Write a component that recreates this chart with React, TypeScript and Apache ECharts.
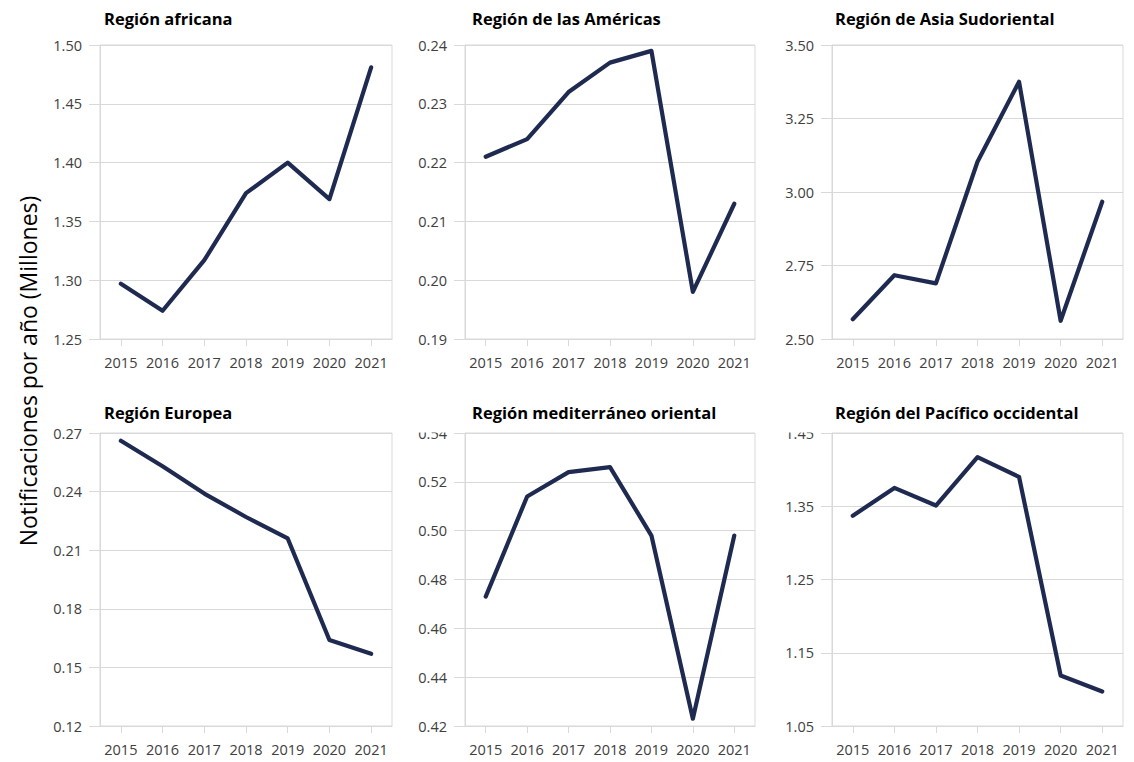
import React, { useEffect, useRef } from "react";
import * as echarts from "echarts";

const years = ["2015", "2016", "2017", "2018", "2019", "2020", "2021"];

const africana = [1.297, 1.274, 1.317, 1.374, 1.4, 1.369, 1.481];
const americas = [0.221, 0.224, 0.232, 0.237, 0.239, 0.198, 0.213];
const asiaSudoriental = [2.567, 2.717, 2.689, 3.103, 3.375, 2.562, 2.967];
const europea = [0.266, 0.253, 0.239, 0.227, 0.216, 0.164, 0.157];
const mediterraneo = [0.473, 0.514, 0.524, 0.526, 0.498, 0.423, 0.498];
const pacifico = [1.337, 1.375, 1.351, 1.417, 1.39, 1.119, 1.097];

const titles = [
  "Región africana",
  "Región de las Américas",
  "Región de Asia Sudoriental",
  "Región Europea",
  "Región mediterráneo oriental",
  "Región del Pacífico occidental",
];
const seriesData = [africana, americas, asiaSudoriental, europea, mediterraneo, pacifico];
const yMins = [1.25, 0.19, 2.5, 0.12, 0.42, 1.05];
const yMaxs = [1.5, 0.24, 3.5, 0.27, 0.54, 1.45];
const yIntervals = [0.05, 0.01, 0.25, 0.03, 0.02, 0.1];
const yAxisTitle = "Notificaciones por año (Millones)";

const FONT = "'Open Sans', 'Noto Sans', sans-serif";
const gridLefts = [100, 465, 832];
const gridWidths = [292, 290, 291];
const gridTops = [45, 433];
const gridHeights = [294, 293];
const titleLefts = [104, 472, 835];
const titleTops = [10, 404];

export default function App() {
  const ref = useRef<HTMLDivElement>(null);
  useEffect(() => {
    if (!ref.current) return;
    const chart = echarts.init(ref.current, null, { renderer: "svg" });
    const grid: any[] = [];
    const xAxis: any[] = [];
    const yAxis: any[] = [];
    const series: any[] = [];
    const title: any[] = [];
    for (let i = 0; i < 6; i++) {
      const r = Math.floor(i / 3);
      const c = i % 3;
      grid.push({
        left: gridLefts[c],
        top: gridTops[r],
        width: gridWidths[c],
        height: gridHeights[r],
        show: true,
        borderColor: "#d9d9d9",
        borderWidth: 1,
        backgroundColor: "transparent",
      });
      title.push({
        text: titles[i],
        left: titleLefts[c],
        top: titleTops[r],
        padding: 0,
        textStyle: { fontFamily: FONT, fontSize: 16.5, fontWeight: "bold", color: "#000" },
      });
      xAxis.push({
        type: "category",
        gridIndex: i,
        data: years,
        boundaryGap: true,
        axisLine: { show: true, lineStyle: { color: "#d9d9d9", width: 1 } },
        axisTick: { show: true, alignWithLabel: true, length: 7, lineStyle: { color: "#d9d9d9" } },
        axisLabel: { interval: 0, color: "#404040", fontFamily: FONT, fontSize: 14.5, margin: 16 },
        splitLine: { show: false },
      });
      yAxis.push({
        type: "value",
        gridIndex: i,
        min: yMins[i],
        max: yMaxs[i],
        interval: yIntervals[i],
        axisLine: { show: true, lineStyle: { color: "#d9d9d9", width: 1 } },
        axisTick: { show: true, length: 11, lineStyle: { color: "#d9d9d9" } },
        axisLabel: {
          color: "#404040",
          fontFamily: FONT,
          fontSize: 14.5,
          margin: 18,
          formatter: (v: number) => v.toFixed(2),
        },
        splitLine: { show: true, lineStyle: { color: "#d9d9d9", width: 1 } },
      });
      series.push({
        type: "line",
        xAxisIndex: i,
        yAxisIndex: i,
        data: seriesData[i],
        symbol: "none",
        lineStyle: { color: "#1f2a50", width: 4.2, join: "round", cap: "round" },
      });
    }
    chart.setOption({
      animation: false,
      backgroundColor: "#ffffff",
      title,
      grid,
      xAxis,
      yAxis,
      series,
      graphic: {
        elements: [
          {
            type: "text",
            x: 28,
            y: 371,
            rotation: Math.PI / 2,
            style: {
              text: yAxisTitle,
              fontFamily: FONT,
              fontSize: 23,
              fill: "#000",
              textAlign: "center",
              textVerticalAlign: "middle",
            },
          },
          { type: "rect", z: 100, shape: { x: 412, y: 416, width: 48, height: 16.5 }, style: { fill: "#fff" } },
          { type: "rect", z: 100, shape: { x: 778, y: 416, width: 48, height: 16.5 }, style: { fill: "#fff" } },
        ],
      },
    });
    return () => chart.dispose();
  }, []);
  return (
    <div
      ref={ref}
      style={{ position: "fixed", left: 0, top: 0, width: 1134, height: 762 }}
    />
  );
}
